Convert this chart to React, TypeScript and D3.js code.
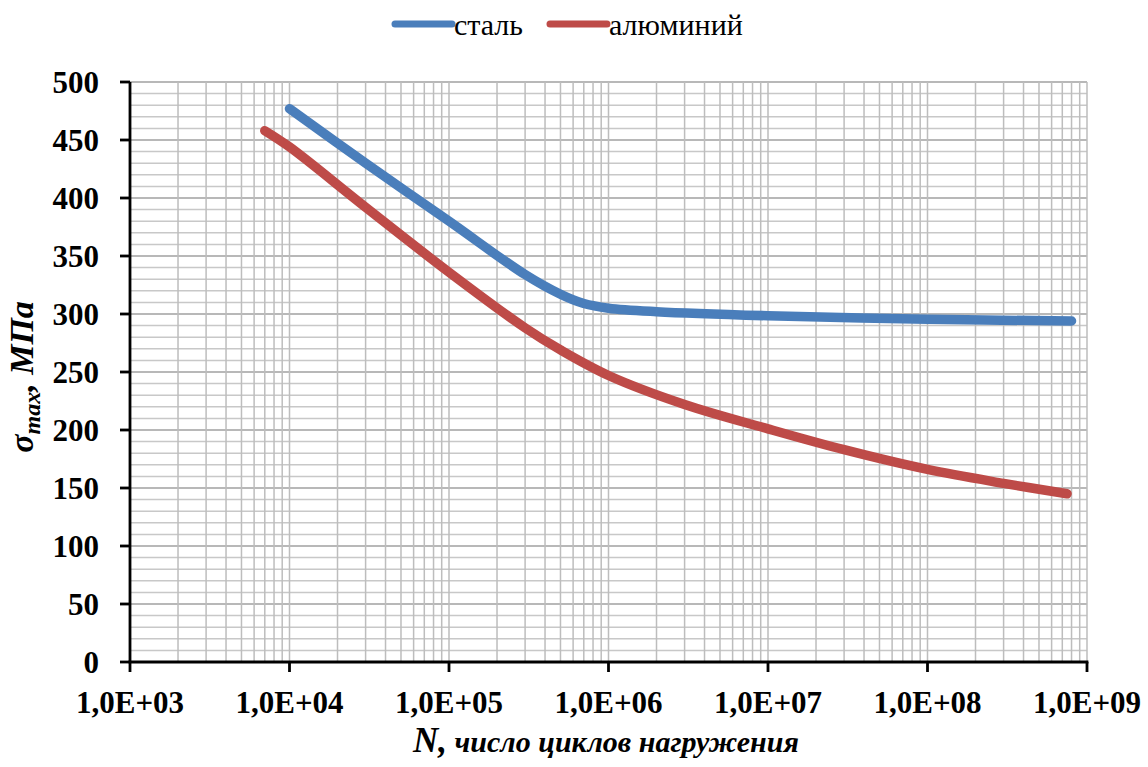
import React from 'react';
import * as d3 from 'd3';

// значения: N (циклы) и σmax (МПа)
const steelN = [1e4, 3e4, 1e5, 3e5, 5e5, 7e5, 1e6, 2e6, 1e7, 1e8, 8e8];
const steelS = [477, 430, 380, 334, 317, 309, 305, 302, 298.5, 295.5, 294];

const alumN = [7e3, 1e4, 3e4, 1e5, 3e5, 5e5, 1e6, 3e6, 1e7, 3e7, 1e8, 3e8, 7.5e8];
const alumS = [458, 444, 392, 336, 288, 269, 247, 222, 201, 183, 166, 154, 145];

const xTicks = [1e3, 1e4, 1e5, 1e6, 1e7, 1e8, 1e9];
const xTickLabels = ['1,0E+03', '1,0E+04', '1,0E+05', '1,0E+06', '1,0E+07', '1,0E+08', '1,0E+09'];
const yTicks = [0, 50, 100, 150, 200, 250, 300, 350, 400, 450, 500];

const seriesNames = ['сталь', 'алюминий'];
const seriesColors = ['#4a7ebb', '#be4b48'];

const W = 1148;
const H = 767;
const margin = { top: 82, right: 61, bottom: 105, left: 130 };
const serif = { fontFamily: "'Liberation Serif', 'Times New Roman', 'DejaVu Serif', serif" };

export default function App() {
  const x = d3.scaleLog().domain([1e3, 1e9]).range([margin.left, W - margin.right]);
  const y = d3.scaleLinear().domain([0, 500]).range([H - margin.bottom, margin.top]);

  // вертикальная сетка: 1..9 в каждой декаде
  const vGrid: number[] = [];
  for (let e = 3; e < 9; e++) {
    for (let m = 1; m < 10; m++) vGrid.push(m * Math.pow(10, e));
  }
  vGrid.push(1e9);
  const hGrid = d3.range(0, 501, 10);

  const line = d3
    .line<[number, number]>()
    .x((d) => x(d[0]))
    .y((d) => y(d[1]))
    .curve(d3.curveCatmullRom.alpha(0.5));

  const data: [number, number][][] = [
    steelN.map((n, i) => [n, steelS[i]]),
    alumN.map((n, i) => [n, alumS[i]]),
  ];

  const [x0, x1] = x.range();
  const [y0, y1] = y.range();

  return (
    <svg
      width={W}
      height={H}
      style={{ position: 'absolute', left: 0, top: 0, background: '#fff' }}
    >
      {/* сетка */}
      <g>
        {hGrid.map((v) => (
          <line
            key={'h' + v}
            x1={x0}
            x2={x1}
            y1={y(v)}
            y2={y(v)}
            stroke={v % 50 === 0 ? '#a0a0a0' : '#c8c8c8'}
            strokeWidth={1.5}
          />
        ))}
        {vGrid.map((v) => (
          <line
            key={'v' + v}
            x1={x(v)}
            x2={x(v)}
            y1={y1}
            y2={y0}
            stroke="#bdbdbd"
            strokeWidth={1.5}
          />
        ))}
      </g>

      {/* кривые */}
      {data.map((d, i) => (
        <path
          key={i}
          d={line(d) || ''}
          fill="none"
          stroke={seriesColors[i]}
          strokeWidth={9.5}
          strokeLinecap="round"
          strokeLinejoin="round"
        />
      ))}

      {/* оси */}
      <line x1={x0} x2={x0} y1={y1} y2={y0} stroke="#000" strokeWidth={2.8} />
      <line x1={x0 - 1.4} x2={x1 + 1.4} y1={y0} y2={y0} stroke="#000" strokeWidth={2.8} />
      {yTicks.map((v) => (
        <g key={'yt' + v}>
          <line x1={x0 - 10} x2={x0} y1={y(v)} y2={y(v)} stroke="#000" strokeWidth={2.8} />
          <text
            x={x0 - 31}
            y={y(v)}
            dy="0.35em"
            textAnchor="end"
            fontSize={31}
            fontWeight="bold"
            style={serif}
          >
            {v}
          </text>
        </g>
      ))}
      {xTicks.map((v, i) => (
        <g key={'xt' + v}>
          <line x1={x(v)} x2={x(v)} y1={y0} y2={y0 + 10} stroke="#000" strokeWidth={2.8} />
          <text x={x(v)} y={713} textAnchor="middle" fontSize={31} fontWeight="bold" style={serif}>
            {xTickLabels[i]}
          </text>
        </g>
      ))}

      {/* подписи осей */}
      <text
        transform="translate(33,377) rotate(-90)"
        textAnchor="middle"
        fontSize={34}
        fontWeight="bold"
        fontStyle="italic"
        style={serif}
      >
        σ
        <tspan fontSize={24} dy={7}>max</tspan>
        <tspan dy={-7}>, МПа</tspan>
      </text>
      <text
        x={606}
        y={752}
        textAnchor="middle"
        fontWeight="bold"
        fontStyle="italic"
        style={serif}
      >
        <tspan fontSize={35}>N,</tspan>
        <tspan fontSize={30}> число циклов нагружения</tspan>
      </text>

      {/* легенда */}
      {seriesNames.map((name, i) => {
        const lx = [395, 550][i];
        return (
          <g key={name}>
            <line
              x1={lx}
              x2={lx + 57}
              y1={24}
              y2={24}
              stroke={seriesColors[i]}
              strokeWidth={7}
              strokeLinecap="round"
            />
            <text x={lx + 59} y={35} fontSize={30} style={serif}>
              {name}
            </text>
          </g>
        );
      })}
    </svg>
  );
}
